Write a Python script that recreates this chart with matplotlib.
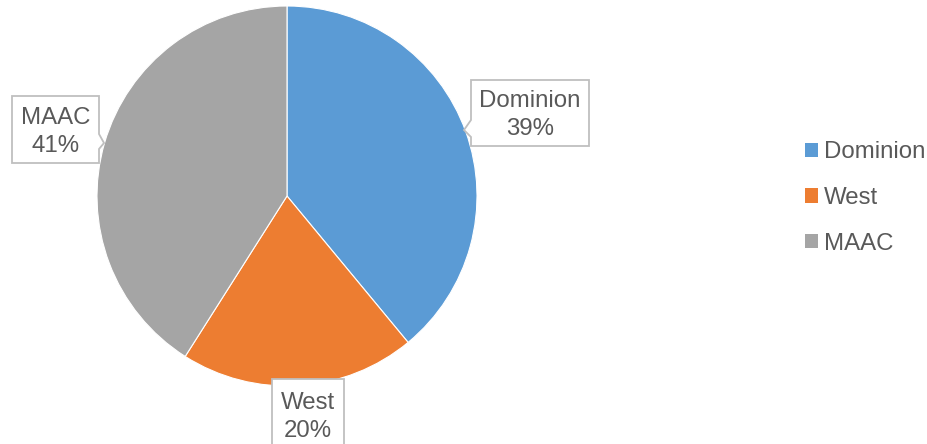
import matplotlib.pyplot as plt
from matplotlib.patches import Polygon, Patch

# Data
regions = ['Dominion', 'West', 'MAAC']
shares = [39, 20, 41]
colors = ['#5B9BD5', '#ED7D31', '#A5A5A5']

W, H = 927, 444
text_color = '#595959'
fsize = 17.3
plt.rcParams['font.family'] = ['Liberation Sans', 'DejaVu Sans']


def callout(ax, box, side, tip, base):
    """Box with a small pointer, coords in pixels (y down)."""
    x0, y0, x1, y1 = box
    b0, b1 = base
    if side == 'left':
        pts = [(x0, y0), (x1, y0), (x1, y1), (x0, y1), (x0, b1), tip, (x0, b0)]
    elif side == 'right':
        pts = [(x0, y0), (x1, y0), (x1, b0), tip, (x1, b1), (x1, y1), (x0, y1)]
    else:
        pts = [(x0, y0), (x1, y0), (x1, y1), (x0, y1)]
    pts = [(px, H - py) for px, py in pts]
    ax.add_patch(Polygon(pts, closed=True, facecolor='white', edgecolor='#BFBFBF',
                         lw=1.3, zorder=3))


fig = plt.figure(figsize=(W / 100, H / 100), dpi=100)
ax = fig.add_axes([0, 0, 1, 1])

wedges, _ = ax.pie(shares, colors=colors, startangle=90, counterclock=False,
                   center=(287, H - 196), radius=190, frame=True,
                   wedgeprops=dict(edgecolor='white', linewidth=0.8))
ax.set_xlim(0, W)
ax.set_ylim(0, H)
ax.set_aspect('equal')
ax.axis('off')

# data label callouts: (box, side, tip, base, text center)
label_layout = {
    'Dominion': ((471, 80, 589, 146), 'left', (464, 130), (120, 137), (530, 115)),
    'West': ((272, 379, 344, 452), 'none', None, (0, 0), (308, 417)),
    'MAAC': ((12, 96, 99, 163), 'right', (104, 143), (134, 149), (56, 132)),
}
for name, val in zip(regions, shares):
    box, side, tip, base, tc = label_layout[name]
    callout(ax, box, side, tip, base)
    ax.text(tc[0], H - tc[1], f'{name}\n{val}%', ha='center', va='center',
            fontsize=fsize, color=text_color, linespacing=1.3, zorder=4)

handles = [Patch(facecolor=c, edgecolor='none') for c in colors]
leg = ax.legend(handles, regions, loc='center left', bbox_to_anchor=(805 / W, 1 - 198 / H),
                frameon=False, fontsize=fsize, handlelength=0.55, handleheight=0.55,
                handletextpad=0.25, labelspacing=0.98, borderaxespad=0, borderpad=0)
for t in leg.get_texts():
    t.set_color(text_color)

fig.savefig('out.png', dpi=100)
